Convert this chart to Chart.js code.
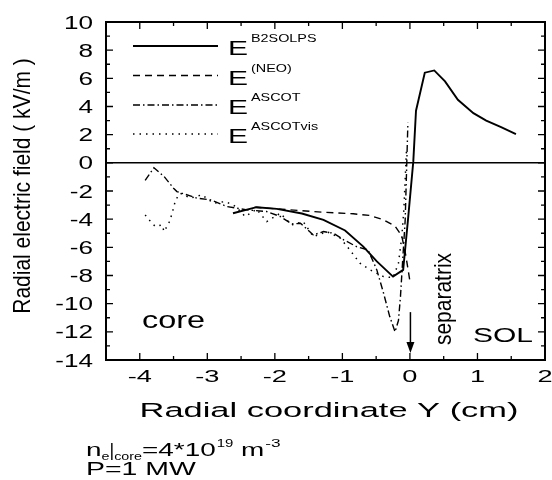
<!DOCTYPE html>
<html>
<head>
<meta charset="utf-8">
<script src="https://cdn.jsdelivr.net/npm/chart.js@4.4.1/dist/chart.umd.min.js"></script>
<style>
  html, body { margin: 0; padding: 0; background: #fff; }
  canvas { display: block; }
</style>
</head>
<body>
<canvas id="erChart" width="552" height="480"></canvas>
<script>
// Radial coordinate Y (cm) / radial electric field (kV/m)
const b2solpsX = [-2.62, -2.27, -1.97, -1.6, -1.28, -0.96, -0.69, -0.49, -0.25, -0.1, -0.03, 0.05, 0.09, 0.22, 0.36, 0.52, 0.71, 0.94, 1.13, 1.35, 1.57];
const b2solpsY = [-3.58, -3.15, -3.27, -3.6, -4.05, -4.8, -5.95, -7.0, -8.08, -7.6, -4.1, 0.1, 3.7, 6.4, 6.56, 5.78, 4.48, 3.53, 3.0, 2.53, 2.04];

const neoX = [-2.3, -1.77, -1.3, -0.84, -0.59, -0.39, -0.22, -0.12, -0.06, 0.0];
const neoY = [-3.15, -3.34, -3.5, -3.62, -3.74, -4.05, -4.5, -5.2, -6.6, -8.4];

const ascotX = [-3.92, -3.79, -3.64, -3.5, -3.45, -3.15, -2.95, -2.71, -2.41, -2.12, -1.92, -1.75, -1.62, -1.43, -1.28, -1.13, -0.98, -0.79, -0.62, -0.49, -0.39, -0.3, -0.22, -0.17, -0.14, -0.11, -0.07, -0.03];
const ascotY = [-1.25, -0.35, -0.97, -1.8, -2.04, -2.51, -2.63, -3.1, -3.34, -3.46, -3.81, -4.34, -4.29, -5.12, -4.88, -5.0, -5.47, -5.95, -6.18, -7.6, -9.26, -10.9, -12.0, -11.2, -9.5, -7.13, -4.05, 2.84];

const ascotVisX = [-3.92, -3.84, -3.77, -3.67, -3.64, -3.57, -3.52, -3.47, -3.4, -3.25, -3.08, -2.91, -2.73, -2.58, -2.44, -2.27, -2.12, -1.92, -1.75, -1.58, -1.43, -1.23, -1.03, -0.89, -0.74, -0.59, -0.39, -0.25, -0.17, -0.12, -0.09, -0.05];
const ascotVisY = [-3.7, -4.17, -4.52, -4.41, -4.88, -4.29, -3.58, -2.63, -2.16, -2.51, -2.27, -2.86, -2.75, -3.1, -3.81, -3.29, -4.17, -3.58, -4.41, -4.17, -5.24, -4.88, -5.35, -6.18, -7.13, -7.6, -8.08, -8.15, -7.13, -5.24, -3.34, 1.0];

const seriesNames = ['B2SOLPS', '(NEO)', 'ASCOT', 'ASCOTvis'];
const xTickLabels = [-4, -3, -2, -1, 0, 1, 2];
const yTickLabels = [10, 8, 6, 4, 2, 0, -2, -4, -6, -8, -10, -12, -14];

const FONT = '"Liberation Sans", Arial, sans-serif';

function toPoints(xs, ys) {
    return xs.map((x, i) => ({ x: x, y: ys[i] }));
}

// draw text stretched horizontally, returns drawn width
function drawText(ctx, s, x, y, size, sx, align) {
    ctx.save();
    ctx.font = `${size}px ${FONT}`;
    ctx.translate(x, y);
    ctx.scale(sx, 1);
    ctx.textAlign = align || 'left';
    ctx.textBaseline = 'alphabetic';
    ctx.fillText(s, 0, 0);
    const w = ctx.measureText(s).width * sx;
    ctx.restore();
    return w;
}

function drawVertical(ctx, s, cx, cy, size, sy) {
    ctx.save();
    ctx.font = `${size}px ${FONT}`;
    ctx.translate(cx, cy);
    ctx.rotate(-Math.PI / 2);
    ctx.scale(1, sy);
    ctx.textAlign = 'center';
    ctx.textBaseline = 'middle';
    ctx.fillText(s, 0, 0);
    ctx.restore();
}

const framePlugin = {
    id: 'frame',
    afterDraw(chart) {
        const ctx = chart.ctx;
        const area = chart.chartArea;
        const xs = chart.scales.x;
        const ys = chart.scales.y;
        ctx.save();
        ctx.fillStyle = '#000';
        ctx.strokeStyle = '#000';

        // zero line
        ctx.lineWidth = 1.5;
        ctx.beginPath();
        ctx.moveTo(area.left, ys.getPixelForValue(0));
        ctx.lineTo(area.right, ys.getPixelForValue(0));
        ctx.stroke();

        // box
        ctx.lineWidth = 2;
        ctx.strokeRect(area.left, area.top, area.right - area.left, area.bottom - area.top);

        // inward ticks, all four sides
        ctx.lineWidth = 1.3;
        ctx.beginPath();
        for (let v = -4.5; v <= 2.001; v += 0.5) {
            const px = xs.getPixelForValue(v);
            const len = Number.isInteger(v) ? 7 : 4;
            ctx.moveTo(px, area.bottom); ctx.lineTo(px, area.bottom - len);
            ctx.moveTo(px, area.top); ctx.lineTo(px, area.top + len);
        }
        for (let v = -14; v <= 10; v += 1) {
            const py = ys.getPixelForValue(v);
            const len = v % 2 === 0 ? 7 : 4;
            ctx.moveTo(area.left, py); ctx.lineTo(area.left + len, py);
            ctx.moveTo(area.right, py); ctx.lineTo(area.right - len, py);
        }
        ctx.stroke();

        // tick labels
        yTickLabels.forEach(v => {
            drawText(ctx, String(v), area.left - 13, ys.getPixelForValue(v) + 6.5, 18, 1.45, 'right');
        });
        xTickLabels.forEach(v => {
            drawText(ctx, String(v), xs.getPixelForValue(v), area.bottom + 22, 17, 1.6, 'center');
        });

        // axis titles
        drawText(ctx, 'Radial coordinate Y (cm)', 329, 417, 20.5, 1.68, 'center');
        drawVertical(ctx, 'Radial electric field ( kV/m )', 23, 186, 21, 1.15);

        // legend
        const rowBase = [55, 84.5, 114, 143];
        chart.data.datasets.forEach((ds, i) => {
            const ly = rowBase[i] - 9;
            ctx.save();
            ctx.lineWidth = ds.borderWidth;
            ctx.setLineDash(ds.borderDash || []);
            ctx.beginPath();
            ctx.moveTo(133, ly);
            ctx.lineTo(218, ly);
            ctx.stroke();
            ctx.restore();
            const ew = drawText(ctx, 'E', 228, rowBase[i], 20, 1.5);
            drawText(ctx, seriesNames[i], 228 + ew + 3, rowBase[i] - 13, 11.5, 1.25);
        });

        // region labels
        drawText(ctx, 'core', 142, 328, 24, 1.35);
        drawText(ctx, 'SOL', 473, 342, 20, 1.5);
        drawVertical(ctx, 'separatrix', 444, 299, 21, 1.15);

        // separatrix arrow
        const ax = xs.getPixelForValue(0) + 0.5;
        const ay0 = ys.getPixelForValue(-10.6);
        const ay1 = ys.getPixelForValue(-13.5);
        ctx.lineWidth = 1.5;
        ctx.beginPath();
        ctx.moveTo(ax, ay0);
        ctx.lineTo(ax, ay1 - 8);
        ctx.stroke();
        ctx.beginPath();
        ctx.moveTo(ax, ay1);
        ctx.lineTo(ax - 4, ay1 - 11);
        ctx.lineTo(ax + 4, ay1 - 11);
        ctx.closePath();
        ctx.fill();

        // plasma parameters
        let x = 86;
        x += drawText(ctx, 'n', x, 456, 18, 1.55);
        x += drawText(ctx, 'e', x, 460, 11, 1.3);
        x += drawText(ctx, '|', x, 456, 18, 1.0);
        x += drawText(ctx, 'core', x, 460, 11, 1.3);
        x += drawText(ctx, '=4*10', x, 456, 18, 1.55);
        x += drawText(ctx, '19', x + 1, 447, 11.5, 1.3) + 1;
        x += drawText(ctx, ' m', x, 456, 18, 1.55);
        drawText(ctx, '-3', x + 1, 447, 11.5, 1.5);
        drawText(ctx, 'P=1 MW', 86, 475, 18, 1.58);

        ctx.restore();
    }
};

const chart = new Chart(document.getElementById('erChart'), {
    type: 'line',
    data: {
        datasets: [
            { label: 'E B2SOLPS', data: toPoints(b2solpsX, b2solpsY), borderColor: '#000', borderWidth: 1.9, borderDash: [] },
            { label: 'E (NEO)', data: toPoints(neoX, neoY), borderColor: '#000', borderWidth: 1.4, borderDash: [7, 5] },
            { label: 'E ASCOT', data: toPoints(ascotX, ascotY), borderColor: '#000', borderWidth: 1.4, borderDash: [7, 3, 1.5, 3] },
            { label: 'E ASCOTvis', data: toPoints(ascotVisX, ascotVisY), borderColor: '#000', borderWidth: 1.5, borderDash: [1.5, 5] }
        ]
    },
    options: {
        responsive: false,
        animation: false,
        events: [],
        layout: { padding: { left: 106, top: 22, right: 7, bottom: 120 } },
        elements: { point: { radius: 0 }, line: { tension: 0, fill: false } },
        plugins: { legend: { display: false }, tooltip: { enabled: false } },
        scales: {
            x: { type: 'linear', min: -4.5, max: 2, display: false },
            y: { type: 'linear', min: -14, max: 10, display: false }
        }
    },
    plugins: [framePlugin]
});
</script>
</body>
</html>
